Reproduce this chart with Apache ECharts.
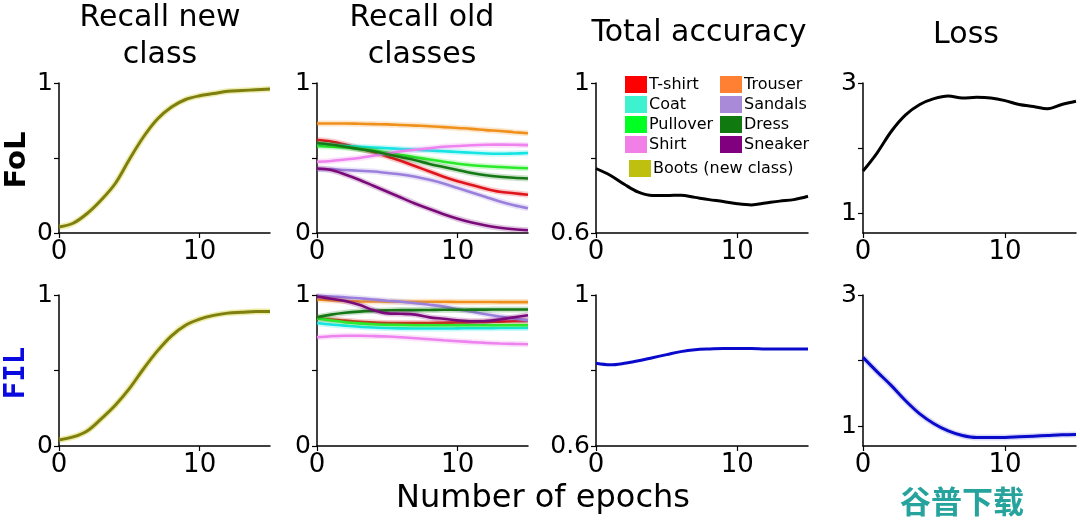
<!DOCTYPE html>
<html>
<head>
<meta charset="utf-8">
<script src="https://cdn.jsdelivr.net/npm/echarts@6/dist/echarts.min.js"></script>
<style>
html,body{margin:0;padding:0;background:#fff;}
#chart{width:1080px;height:524px;}
</style>
</head>
<body>
<div id="chart"></div>
<script>
// ---------- data ----------
const EPOCHS = [0,1,2,3,4,5,6,7,8,9,10,11,12,13,14,15];

const X_TICKS = [0, 10];
const RECALL_TICKS = [0, 0.5, 1];
const RECALL_LABELS = [0, 1];
const ACC_TICKS = [0.6, 0.8, 1];
const ACC_LABELS = [0.6, 1];
const LOSS_TICKS = [1, 2, 3];
const LOSS_LABELS = [1, 3];

const COLUMN_TITLES = ['Recall new\nclass', 'Recall old\nclasses', 'Total accuracy', 'Loss'];
const ROW_LABELS = ['FoL', 'FIL'];
const X_LABEL = 'Number of epochs';

const CLASS_NAMES = ['T-shirt', 'Coat', 'Pullover', 'Shirt', 'Trouser', 'Sandals', 'Dress', 'Sneaker'];
const NEW_CLASS_NAME = 'Boots (new class)';

// Recall new class
const fol_new = [0.04,0.065,0.13,0.22,0.33,0.49,0.64,0.76,0.84,0.89,0.915,0.93,0.945,0.95,0.955,0.96];
const fil_new = [0.04,0.06,0.10,0.18,0.27,0.38,0.51,0.63,0.73,0.80,0.84,0.865,0.88,0.885,0.89,0.89];

// Recall old classes - FoL
const fol_tshirt   = [0.62,0.61,0.59,0.565,0.54,0.51,0.48,0.445,0.41,0.375,0.345,0.32,0.295,0.275,0.265,0.255];
const fol_coat     = [0.59,0.585,0.58,0.575,0.57,0.565,0.56,0.555,0.55,0.545,0.54,0.535,0.53,0.528,0.53,0.533];
const fol_pullover = [0.58,0.575,0.57,0.56,0.55,0.535,0.52,0.505,0.49,0.475,0.462,0.452,0.445,0.44,0.435,0.432];
const fol_shirt    = [0.475,0.48,0.49,0.50,0.515,0.53,0.545,0.555,0.565,0.575,0.58,0.585,0.588,0.589,0.588,0.586];
const fol_trouser  = [0.73,0.73,0.73,0.728,0.726,0.724,0.72,0.716,0.712,0.706,0.70,0.694,0.686,0.68,0.672,0.665];
const fol_sandals  = [0.425,0.425,0.42,0.415,0.41,0.40,0.39,0.375,0.355,0.33,0.30,0.27,0.24,0.21,0.185,0.165];
const fol_dress    = [0.60,0.59,0.575,0.56,0.545,0.525,0.505,0.485,0.46,0.44,0.42,0.40,0.385,0.375,0.368,0.363];
const fol_sneaker  = [0.43,0.42,0.39,0.355,0.315,0.275,0.235,0.195,0.16,0.125,0.095,0.07,0.05,0.035,0.025,0.018];

// Recall old classes - FIL
const fil_tshirt   = [0.848,0.838,0.83,0.822,0.818,0.815,0.814,0.814,0.815,0.816,0.818,0.82,0.822,0.824,0.826,0.828];
const fil_coat     = [0.815,0.805,0.797,0.79,0.785,0.781,0.779,0.778,0.778,0.778,0.779,0.78,0.78,0.781,0.781,0.782];
const fil_pullover = [0.845,0.832,0.82,0.812,0.806,0.803,0.801,0.80,0.80,0.80,0.80,0.80,0.80,0.80,0.80,0.80];
const fil_shirt    = [0.72,0.727,0.73,0.73,0.728,0.725,0.72,0.714,0.707,0.70,0.694,0.688,0.683,0.679,0.676,0.674];
const fil_trouser  = [0.97,0.965,0.96,0.958,0.957,0.956,0.955,0.955,0.955,0.955,0.954,0.954,0.954,0.953,0.953,0.953];
const fil_sandals  = [0.993,0.99,0.985,0.978,0.97,0.962,0.955,0.945,0.935,0.923,0.905,0.89,0.872,0.858,0.845,0.832];
const fil_dress    = [0.853,0.87,0.882,0.89,0.895,0.898,0.90,0.90,0.901,0.902,0.902,0.903,0.903,0.904,0.904,0.904];
const fil_sneaker  = [0.99,0.975,0.96,0.935,0.90,0.878,0.876,0.87,0.852,0.843,0.832,0.826,0.828,0.838,0.852,0.866];

// Total accuracy
const fol_acc = [0.772,0.754,0.730,0.709,0.700,0.700,0.701,0.695,0.689,0.684,0.678,0.675,0.680,0.685,0.689,0.698];
const fil_acc = [0.819,0.815,0.819,0.826,0.834,0.842,0.850,0.855,0.857,0.858,0.858,0.858,0.857,0.857,0.857,0.857];

// Loss
const fol_loss = [1.65,1.93,2.26,2.51,2.67,2.76,2.80,2.77,2.78,2.77,2.73,2.67,2.64,2.605,2.67,2.72];
const fil_loss = [2.05,1.83,1.62,1.39,1.19,1.04,0.93,0.86,0.83,0.83,0.83,0.84,0.85,0.86,0.87,0.875];

// ---------- styles ----------
const FONT = 'DejaVu Sans';
const LINE_COLORS = {
  'T-shirt':'#e0141c','Coat':'#14e4e4','Pullover':'#2bea2b','Shirt':'#ee82ee',
  'Trouser':'#f0901c','Sandals':'#9a80dc','Dress':'#147814','Sneaker':'#7a0a7a'
};
const LEGEND_COLORS = {
  'T-shirt':'#ff0000','Coat':'#3ff2cf','Pullover':'#00ff22','Shirt':'#f27fe8',
  'Trouser':'#ff8033','Sandals':'#a88ad8','Dress':'#107a10','Sneaker':'#800080',
  'Boots (new class)':'#bfbf10'
};
const OLIVE = '#7f7f10', OLIVE_BAND = '#c8c800';
const BLUE = '#0a0acc';

const fol_old = [fol_tshirt, fol_coat, fol_pullover, fol_shirt, fol_trouser, fol_sandals, fol_dress, fol_sneaker];
const fil_old = [fil_tshirt, fil_coat, fil_pullover, fil_shirt, fil_trouser, fil_sandals, fil_dress, fil_sneaker];

const COL_LEFT = [59, 317, 596, 863];
const COL_W = [211, 211, 212, 213];
const ROW_TOP = [83, 295];
const ROW_H = [150, 151];

const grids = [], xAxes = [], yAxes = [], series = [];
const fmt = v => String(Math.round(v * 100) / 100);

function yCfg(kind){
  if (kind === 'recall') return {min:0, max:1, ticks:RECALL_TICKS, labels:RECALL_LABELS};
  if (kind === 'acc') return {min:0.6, max:1, ticks:ACC_TICKS, labels:ACC_LABELS};
  return {min:0.7, max:3, ticks:LOSS_TICKS, labels:LOSS_LABELS};
}
const KINDS = ['recall','recall','acc','loss'];

for (let r = 0; r < 2; r++) {
  for (let c = 0; c < 4; c++) {
    const i = r * 4 + c;
    grids.push({left:COL_LEFT[c], top:ROW_TOP[r], width:COL_W[c], height:ROW_H[r], containLabel:false});
    xAxes.push({
      type:'value', gridIndex:i, min:0, max:15,
      axisLine:{show:true, lineStyle:{color:'#000', width:1.5}},
      axisTick:{show:true, length:5, inside:false, customValues:X_TICKS, lineStyle:{color:'#000', width:1.2}},
      axisLabel:{show:true, customValues:X_TICKS, margin:6, color:'#000', fontFamily:FONT, fontSize:26, formatter:fmt},
      splitLine:{show:false}
    });
    const yc = yCfg(KINDS[c]);
    yAxes.push({
      type:'value', gridIndex:i, min:yc.min, max:yc.max,
      axisLine:{show:true, onZero:false, lineStyle:{color:'#000', width:1.5}},
      axisTick:{show:true, length:5, inside:false, customValues:yc.ticks, lineStyle:{color:'#000', width:1.2}},
      axisLabel:{show:true, customValues:yc.labels, margin:6, color:'#000', fontFamily:FONT, fontSize:25, formatter:fmt},
      splitLine:{show:false}
    });
  }
}

function addLine(name, values, idx, color, width, bandColor, z, bandOpacity){
  const data = EPOCHS.map((e, k) => [e, values[k]]);
  if (bandColor) {
    series.push({
      name: name + ' band', type:'line', xAxisIndex:idx, yAxisIndex:idx, data,
      smooth:0.35, symbol:'none', silent:true, z:(z||2) - 1,
      lineStyle:{color:bandColor, width:6, opacity:bandOpacity || 0.22}
    });
  }
  series.push({
    name, type:'line', xAxisIndex:idx, yAxisIndex:idx, data,
    smooth:0.35, symbol:'none', z:z||2,
    itemStyle:{color:color},
    lineStyle:{color:color, width:width}
  });
}

// column 1: new class
addLine(NEW_CLASS_NAME, fol_new, 0, OLIVE, 3, OLIVE_BAND, 2, 0.3);
addLine(NEW_CLASS_NAME, fil_new, 4, OLIVE, 3, OLIVE_BAND, 2, 0.35);
// column 2: old classes
CLASS_NAMES.forEach((n, k) => {
  addLine(n, fol_old[k], 1, LINE_COLORS[n], 2.6, LINE_COLORS[n], 3 + k);
  addLine(n, fil_old[k], 5, LINE_COLORS[n], 2.6, LINE_COLORS[n], 3 + k);
});
// column 3: total accuracy
addLine('FoL accuracy', fol_acc, 2, '#000', 3, null);
addLine('FIL accuracy', fil_acc, 6, BLUE, 3, null);
// column 4: loss
addLine('FoL loss', fol_loss, 3, '#000', 3, null);
addLine('FIL loss', fil_loss, 7, BLUE, 3, BLUE, 2, 0.15);

function legendCfg(names, left, top){
  return {
    orient:'vertical', left, top, padding:0, itemGap:3,
    itemWidth:22, itemHeight:17, icon:'rect', selectedMode:false,
    textStyle:{fontFamily:FONT, fontSize:16, color:'#000', padding:[0,0,0,-3]},
    data: names.map(n => ({name:n, itemStyle:{color:LEGEND_COLORS[n]}, lineStyle:{opacity:0}}))
  };
}

const graphics = [];
// titles
const titleY = [[18, 55], [18, 55], [33], [35]];
const titleX = [160, 422, 699, 966];
COLUMN_TITLES.forEach((t, c) => {
  t.split('\n').forEach((line, j) => {
    graphics.push({type:'text', x:titleX[c], y:titleY[c][j], style:{
      text:line, font:'30px "DejaVu Sans"', fill:'#000',
      align:'center', verticalAlign:'middle', textAlign:'center', textVerticalAlign:'middle'}});
  });
});
// row labels
graphics.push({type:'text', x:17, y:160, rotation:Math.PI/2, style:{
  text:ROW_LABELS[0], font:'bold 29px "DejaVu Sans"', fill:'#000',
  align:'center', verticalAlign:'middle', textAlign:'center', textVerticalAlign:'middle'}});
graphics.push({type:'text', x:16, y:373, rotation:Math.PI/2, style:{
  text:ROW_LABELS[1], font:'bold 29px "DejaVu Sans Mono"', fill:'#0a0ae0',
  align:'center', verticalAlign:'middle', textAlign:'center', textVerticalAlign:'middle'}});
// x label
graphics.push({type:'text', x:543, y:499, style:{
  text:X_LABEL, font:'32px "DejaVu Sans"', fill:'#000',
  align:'center', verticalAlign:'middle', textAlign:'center', textVerticalAlign:'middle'}});
// watermark
graphics.push({type:'text', x:962, y:501, style:{
  text:'谷普下载', font:'bold 31px "Noto Sans CJK SC"', fill:'#25a39c',
  align:'center', verticalAlign:'middle', textAlign:'center', textVerticalAlign:'middle'}});

const chart = echarts.init(document.getElementById('chart'), null, {renderer:'canvas'});
chart.setOption({
  animation:false,
  backgroundColor:'#fff',
  grid:grids, xAxis:xAxes, yAxis:yAxes, series,
  legend:[
    legendCfg(CLASS_NAMES.slice(0,4), 625, 76),
    legendCfg(CLASS_NAMES.slice(4,8), 720, 76),
    legendCfg([NEW_CLASS_NAME], 629, 160)
  ],
  graphic:graphics
});
</script>
</body>
</html>
